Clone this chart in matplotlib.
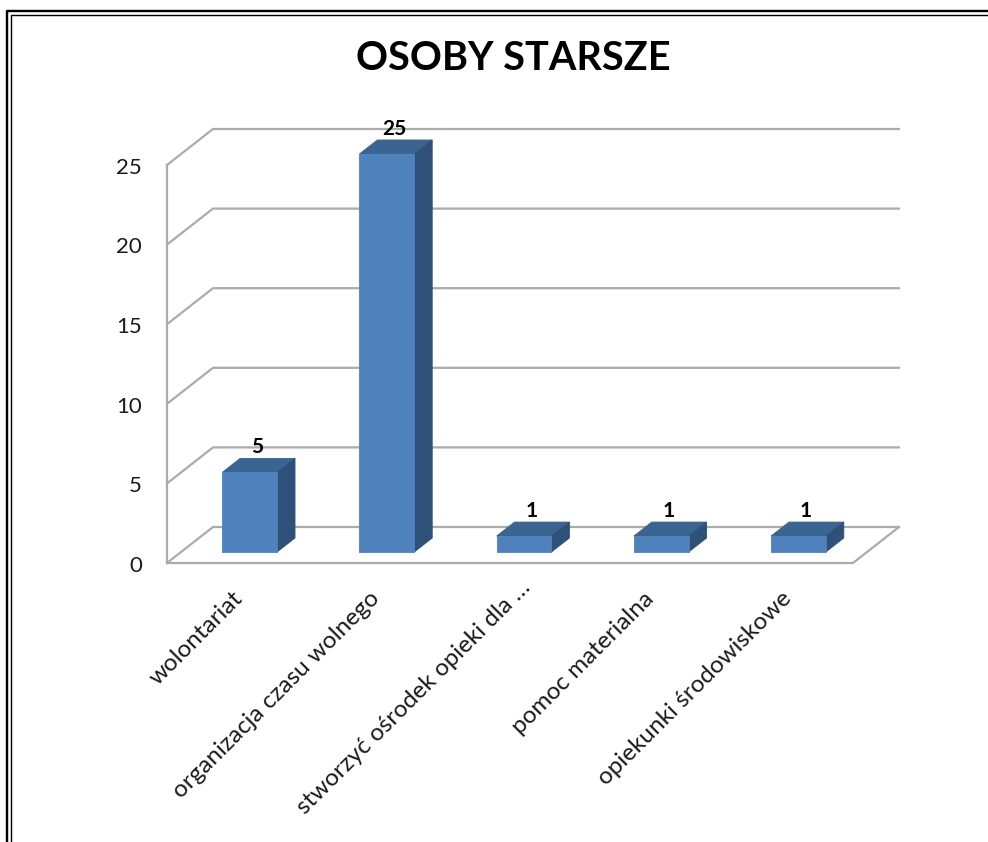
#!/usr/bin/env python3
"""OSOBY STARSZE - wykres slupkowy 3D (rzut ukosny)."""

import matplotlib
matplotlib.use("Agg")
import matplotlib.pyplot as plt
from matplotlib.lines import Line2D
from matplotlib.patches import Polygon

categories = [
    "wolontariat",
    "organizacja czasu wolnego",
    "stworzyć ośrodek opieki dla …",
    "pomoc materialna",
    "opiekunki środowiskowe",
]
values = [5, 25, 1, 1, 1]
y_ticks = [0, 5, 10, 15, 20, 25]

W, H = 988, 842
FRONT = "#4F81BD"
TOP = "#3A6492"
SIDE = "#2F5078"
GRID = "#ABABAB"
TEXT = "#1A1A1A"

plt.rcParams["font.family"] = ["Lato", "DejaVu Sans"]

fig = plt.figure(figsize=(W / 100, H / 100), dpi=100, facecolor="white")
left, right, top, bottom = 167, 853, 165, 563
ax = fig.add_axes((left / W, 1 - bottom / H, (right - left) / W, (bottom - top) / H))
ax.set_xlim(0, len(categories))
ax.set_ylim(0, 25)
ax.axis("off")

# przesuniecie glebokosci w jednostkach danych
DX = 46 / ((right - left) / len(categories))
DY = 36 / ((bottom - top) / 25)


def proj(x, y, d=0.0):
    return x + DX * d, y + DY * d


def add_line(points, **kw):
    xs, ys = zip(*points)
    ax.add_line(Line2D(xs, ys, clip_on=False, solid_capstyle="projecting", **kw))


n = len(categories)
style = dict(color=GRID, linewidth=1.6)
for t in y_ticks:
    add_line([proj(0, t), proj(0, t, 1), proj(n, t, 1)], zorder=1, **style)
add_line([proj(0, 0), proj(0, 25)], zorder=1, **style)
add_line([proj(0, 0), proj(n, 0), proj(n, 0, 1)], zorder=1, **style)

bar_w = 0.4
d0, d1 = 0.305, 0.695
for i, v in enumerate(values):
    x0, x1 = i + 0.5 - bar_w / 2, i + 0.5 + bar_w / 2
    faces = [
        ([proj(x0, v, d0), proj(x1, v, d0), proj(x1, v, d1), proj(x0, v, d1)], TOP),
        ([proj(x1, 0, d0), proj(x1, v, d0), proj(x1, v, d1), proj(x1, 0, d1)], SIDE),
        ([proj(x0, 0, d0), proj(x1, 0, d0), proj(x1, v, d0), proj(x0, v, d0)], FRONT),
    ]
    for pts, c in faces:
        ax.add_patch(Polygon(pts, closed=True, facecolor=c, edgecolor=c,
                             linewidth=0.6, clip_on=False, zorder=3))
    lx, _ = proj(i + 0.5, v, 0.5)
    _, ly = proj(i + 0.5, v, d1)
    ax.annotate(str(v), (lx, ly), xytext=(-1, 1), textcoords="offset points",
                ha="center", va="bottom", fontsize=15, fontweight="bold",
                color="black", zorder=4, annotation_clip=False)

for t in y_ticks:
    ax.annotate(str(t), (0, t), xytext=(-18, -2), textcoords="offset points",
                ha="right", va="center", fontsize=16, color=TEXT, annotation_clip=False)

for i, name in enumerate(categories):
    # obciety opis lezy wyzej niz pozostale
    off = (7, -10) if name.endswith("…") else (-3, -18)
    ax.annotate(name, (i + 0.5, 0), xytext=off, textcoords="offset points",
                ha="right", va="top", rotation=45, rotation_mode="anchor",
                fontsize=17.5, color=TEXT, annotation_clip=False)

fig.text(513 / W, 1 - 58 / H, "OSOBY STARSZE", ha="center", va="center",
         fontsize=28.5, fontweight="bold", color="black")

# podwojna ramka
for x0, y0, lw in [(7, 11, 2.4), (11, 14.5, 1.4)]:
    fig.add_artist(Line2D([x0 / W, x0 / W, 1], [0, 1 - y0 / H, 1 - y0 / H],
                          color="black", linewidth=lw * 0.72, transform=fig.transFigure))

fig.savefig("out.png", dpi=100)
